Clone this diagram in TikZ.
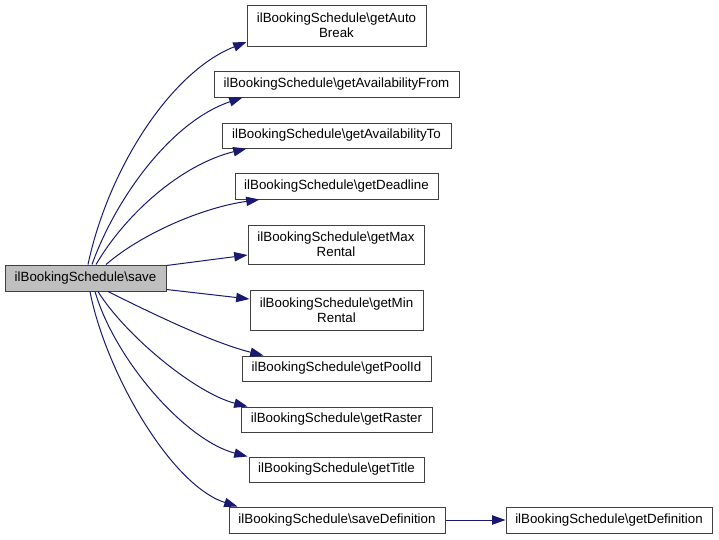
\documentclass[tikz,border=0pt]{standalone}
\usepackage{fontspec}
\setmainfont{Liberation Sans}
\usetikzlibrary{arrows.meta}
\definecolor{edgeblue}{HTML}{191970}
\definecolor{boxline}{HTML}{404040}
\definecolor{hilite}{HTML}{BFBFBF}
\begin{document}
\begin{tikzpicture}[x=1pt,y=-1pt,
  fn/.style={draw=boxline,line width=1pt,fill=white,inner sep=0pt,align=center,
    font=\fontsize{13.33}{15}\selectfont},
  cur/.style={fn,fill=hilite},
  edge/.style={draw=edgeblue,line width=1pt,-{Triangle[length=13.3pt,width=9.3pt]}}]
\useasboundingbox (0,0) rectangle (719,539);
\node[cur,minimum width=161pt,minimum height=26pt] (save) at (85.5,278) {ilBookingSchedule\textbackslash save};
\node[fn,minimum width=179pt,minimum height=41pt] (autob) at (336.5,25.5) {ilBookingSchedule\textbackslash getAuto\\Break};
\node[fn,minimum width=245pt,minimum height=26pt] (afrom) at (336.5,84) {ilBookingSchedule\textbackslash getAvailabilityFrom};
\node[fn,minimum width=229pt,minimum height=25pt] (ato) at (336.5,135.5) {ilBookingSchedule\textbackslash getAvailabilityTo};
\node[fn,minimum width=203pt,minimum height=26pt] (dead) at (336.5,186) {ilBookingSchedule\textbackslash getDeadline};
\node[fn,minimum width=176pt,minimum height=39pt] (maxr) at (336,244.5) {ilBookingSchedule\textbackslash getMax\\Rental};
\node[fn,minimum width=173pt,minimum height=40pt] (minr) at (336.5,310) {ilBookingSchedule\textbackslash getMin\\Rental};
\node[fn,minimum width=189pt,minimum height=25pt] (pool) at (336.5,368.5) {ilBookingSchedule\textbackslash getPoolId};
\node[fn,minimum width=191pt,minimum height=25pt] (raster) at (336.5,419.5) {ilBookingSchedule\textbackslash getRaster};
\node[fn,minimum width=175pt,minimum height=25pt] (title) at (336.5,469.5) {ilBookingSchedule\textbackslash getTitle};
\node[fn,minimum width=216pt,minimum height=26pt] (savedef) at (337,520) {ilBookingSchedule\textbackslash saveDefinition};
\node[fn,minimum width=206pt,minimum height=26pt] (getdef) at (609,520) {ilBookingSchedule\textbackslash getDefinition};

\draw[edge] ([xshift=2.5pt]save.north) .. controls (108,170) and (170,72) .. ([yshift=4.5pt]autob.south west);
\draw[edge] ([xshift=6.5pt]save.north) .. controls (115,200) and (170,122) .. ([xshift=29pt]afrom.south west);
\draw[edge] ([xshift=10.5pt]save.north) .. controls (125,215) and (180,165) .. ([xshift=25pt]ato.south west);
\draw[edge] ([xshift=20.5pt]save.north) .. controls (140,235) and (200,208) .. ([xshift=25pt]dead.south west);
\draw[edge] ([yshift=-1pt]save.north east) -- ([yshift=-10.5pt]maxr.west);
\draw[edge] ([yshift=2pt]save.south east) -- ([yshift=11pt]minr.west);
\draw[edge] ([xshift=22.5pt]save.south) .. controls (145,310) and (210,342) .. ([xshift=22pt]pool.north west);
\draw[edge] ([xshift=12.5pt]save.south) .. controls (125,335) and (195,393) .. ([xshift=7pt]raster.north west);
\draw[edge] ([xshift=9.5pt]save.south) .. controls (115,360) and (185,440) .. ([xshift=-1pt]title.north west);
\draw[edge] ([xshift=4.5pt]save.south) .. controls (105,370) and (170,485) .. ([xshift=9pt]savedef.north west);
\draw[edge] (savedef.east) -- (getdef.west);
\end{tikzpicture}
\end{document}
